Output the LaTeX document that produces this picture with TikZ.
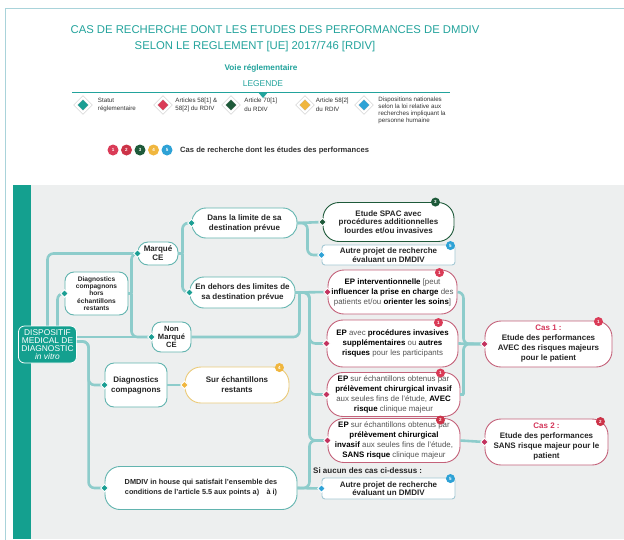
\documentclass[tikz,border=0pt]{standalone}
\usepackage{fontspec}
\setmainfont{Liberation Sans}
\usetikzlibrary{calc,
                positioning,
                shapes.geometric} % For diamond

\definecolor{teal1}{HTML}{22A39C}
\definecolor{tealbar}{HTML}{14A08F}
\definecolor{tealport}{HTML}{1A9E93}
\definecolor{tealborder}{HTML}{62B4AF}
\definecolor{linkcol}{HTML}{8DCCCB}
\definecolor{panel}{HTML}{EDEFEF}
\definecolor{framecol}{HTML}{A9D3DA}
\definecolor{redport}{HTML}{C2325E}
\definecolor{redborder}{HTML}{C4627A}
\definecolor{badgered}{HTML}{DA3B57}
\definecolor{badgered2}{HTML}{CC3348}
\definecolor{darkgreen}{HTML}{1E5A3A}
\definecolor{yellowport}{HTML}{F0B63E}
\definecolor{yellowborder}{HTML}{EBCB7A}
\definecolor{blueport}{HTML}{2EA2D6}
\definecolor{blueborder}{HTML}{A3C8D4}
\definecolor{textgray}{HTML}{555555}
\definecolor{casred}{HTML}{D4365A}

\newcommand{\numbadge}[4]
{   % #1 = naming of badge
    % #2 = position
    % #3 = colour
    % #4 = number
    \node[badge, fill=#3] (#1) at (#2) {#4};
}
\newcommand{\kw}[1]{\textbf{\color{black}#1}}

\begin{document}
\begin{tikzpicture}[x=1pt, y=-1pt]
    \tikzset
    {
        base/.style = {draw = tealborder,
                       fill = white,
                       line width = 0.9pt,
                       align = center,
                       inner sep = 1pt,
                       text = black!85,
                       font = \fontsize{8}{10}\selectfont\bfseries},
        box/.style = {base,
                      rectangle,
                      rounded corners = 9pt},
        pill/.style = {base,
                       rectangle,
                       rounded corners = 14pt},
        flat/.style = {base,
                       rectangle,
                       rounded corners = 3pt,
                       draw = blueborder,
                       font = \fontsize{8}{8.5}\selectfont\bfseries},
        epnode/.style = {pill,
                         draw = redborder,
                         text = textgray,
                         font = \fontsize{7.9}{10}\selectfont},
        dmdivnode/.style = {rectangle,
                            rounded corners = 6pt,
                            fill = tealbar,
                            draw = white,
                            line width = 0.8pt,
                            text = white,
                            align = center,
                            inner sep = 1pt,
                            font = \fontsize{8.4}{7.9}\selectfont},
        port/.style = {diamond,
                       draw = white,
                       line width = 0.9pt,
                       minimum size = 8pt,
                       inner sep = 0pt},
        badge/.style = {circle,
                        inner sep = 0pt,
                        minimum size = 9pt,
                        text = white,
                        font = \fontsize{4.5}{5}\selectfont\bfseries},
        legdiamond/.style = {diamond,
                             inner sep = 0pt,
                             minimum size = 15pt,
                             draw = black!22,
                             line width = 0.5pt,
                             double = white,
                             double distance = 2pt},
        legtext/.style = {align = left,
                          inner sep = 0pt,
                          text = black!80,
                          font = \fontsize{6.2}{8.5}\selectfont},
        titletext/.style = {text = teal1,
                            font = \fontsize{11.3}{14}\selectfont},
        linkline/.style = {draw = linkcol,
                           line width = 2.6pt,
                           rounded corners = 6pt}
    };

    \useasboundingbox (0,0) rectangle (624,539);
    \fill[white] (0,0) rectangle (624,539);
    \draw[framecol, line width = 0.8pt] (5,545) |- (630,8);

    % Title
    \node[titletext] (title1) at (275,30) {CAS DE RECHERCHE DONT LES ETUDES DES PERFORMANCES DE DMDIV};
    \node[titletext] (title2) at (255,47) {SELON LE REGLEMENT [UE] 2017/746 [RDIV]};
    \node[text = teal1, font = \fontsize{8.2}{9}\selectfont\bfseries] (voie) at (261,68) {Voie réglementaire};
    \node[text = teal1, font = \fontsize{8.4}{9}\selectfont] (legende) at (263,84) {LEGENDE};
    \draw[teal1, line width = 0.8pt] (72,92) -- (450,92);
    \fill[teal1] (258,92) -- (268,92) -- (263,98) -- cycle;

    % Legend
    \node[legdiamond, fill = tealport] (leg-statut) at (83,105) {};
    \node[legtext, right = 7pt of leg-statut] (leg-statut-t) {Statut\\réglementaire};
    \node[legdiamond, fill = badgered] (leg-art58) at (163,105) {};
    \node[legtext, right = 4.5pt of leg-art58] (leg-art58-t) {Articles 58[1] \&\\58[2] du RDIV};
    \node[legdiamond, fill = darkgreen] (leg-art70) at (231,105) {};
    \node[legtext, right = 5.5pt of leg-art70] (leg-art70-t) {Article 70[1]\\du RDIV};
    \node[legdiamond, fill = yellowport] (leg-art582) at (305,105) {};
    \node[legtext, right = 3pt of leg-art582] (leg-art582-t) {Article 58[2]\\du RDIV};
    \node[legdiamond, fill = blueport] (leg-nat) at (364,105) {};
    \node[legtext, font = \fontsize{6.2}{7}\selectfont, right = 6.5pt of leg-nat, yshift = -5pt] (leg-nat-t)
        {Dispositions nationales\\selon la loi relative aux\\recherches impliquant la\\personne humaine};

    % Numbered cases
    \foreach \i/\c [count=\k] in {1/badgered, 2/badgered2, 3/darkgreen, 4/yellowport, 5/blueport}
        \node[badge, minimum size = 11pt, fill = \c] (cas-\i) at ({99.5+13.5*\k},150) {\i};
    \node[text = black!80, font = \fontsize{7.6}{9}\selectfont\bfseries, right = 4pt of cas-5] (cas-text)
        {Cas de recherche dont les études des performances};

    % Panel
    \fill[panel] (13,185) rectangle (624,539);
    \fill[tealbar] (13,185) rectangle (31,539);

    % Column 1
    \node[dmdivnode, minimum width = 58pt, minimum height = 37pt] (dmdiv) at (47.5,344.5)
        {DISPOSITIF\\MEDICAL DE\\DIAGNOSTIC\\\textit{in vitro}};
    % Column 2
    \node[box, minimum width = 63pt, minimum height = 43pt, font = \fontsize{6.6}{7.2}\selectfont\bfseries] (hors) at (96.5,293.5)
        {Diagnostics\\compagnons\\hors\\échantillons\\restants};
    \node[box, minimum width = 62pt, minimum height = 44pt] (diag) at (136,385) {Diagnostics\\compagnons};
    \node[pill, rounded corners = 15pt, minimum width = 192pt, minimum height = 43pt, font = \fontsize{7.3}{10}\selectfont\bfseries] (inhouse) at (201,488)
        {DMDIV in house qui satisfait l'ensemble des\\conditions de l'article 5.5 aux points a)\quad à i)};
    % Column 3
    \node[box, rounded corners = 10pt, minimum width = 40pt, minimum height = 23pt, font = \fontsize{8}{9}\selectfont\bfseries] (marque) at (158,253.5) {Marqué\\CE};
    \node[box, minimum width = 39pt, minimum height = 30pt, font = \fontsize{7.6}{8}\selectfont\bfseries] (nonmarque) at (171.5,337) {Non\\Marqué\\CE};
    \node[pill, draw = yellowborder, rounded corners = 16pt, minimum width = 104pt, minimum height = 36pt] (surech) at (237,385) {Sur échantillons\\restants};
    % Column 4
    \node[pill, minimum width = 105pt, minimum height = 30pt] (dans) at (244.5,223) {Dans la limite de sa\\destination prévue};
    \node[pill, minimum width = 105pt, minimum height = 31pt] (endehors) at (242.5,292.5) {En dehors des limites de\\sa destination prévue};
    % Column 5
    \node[pill, draw = darkgreen, rounded corners = 16pt, minimum width = 131pt, minimum height = 39pt, font = \fontsize{8}{8.5}\selectfont\bfseries] (spac) at (388.5,222)
        {Etude SPAC avec\\procédures additionnelles\\lourdes et/ou invasives};
    \node[flat, minimum width = 133pt, minimum height = 20pt] (autre1) at (388.5,255) {Autre projet de recherche\\évaluant un DMDIV};
    \node[epnode, rounded corners = 16pt, minimum width = 129pt, minimum height = 44pt] (epint) at (392.5,292)
        {\kw{EP interventionnelle} [peut\\\kw{influencer la prise en charge} des\\patients et/ou \kw{orienter les soins}]};
    \node[epnode, rounded corners = 16pt, minimum width = 131pt, minimum height = 47pt] (epavec) at (392.5,343.5)
        {\kw{EP} avec \kw{procédures invasives}\\\kw{supplémentaires} ou \kw{autres}\\\kw{risques} pour les participants};
    \node[epnode, rounded corners = 16pt, minimum width = 133pt, minimum height = 44pt] (epsur1) at (393.5,394.5)
        {\kw{EP} sur échantillons obtenus par\\\kw{prélèvement chirurgical invasif}\\aux seules fins de l'étude, \kw{AVEC}\\\kw{risque} clinique majeur};
    \node[epnode, rounded corners = 16pt, minimum width = 132pt, minimum height = 44pt] (epsur2) at (394,440.5)
        {\kw{EP} sur échantillons obtenus par\\\kw{prélèvement chirurgical}\\\kw{invasif} aux seules fins de l'étude,\\\kw{SANS risque} clinique majeur};
    \node[anchor = west, inner sep = 0pt, text = black!85, font = \fontsize{8}{9}\selectfont\bfseries] (siaucun) at (313,471) {Si aucun des cas ci-dessus :};
    \node[flat, minimum width = 133pt, minimum height = 21pt] (autre2) at (388.5,488.5) {Autre projet de recherche\\évaluant un DMDIV};
    % Column 6
    \node[pill, draw = redborder, rounded corners = 16pt, minimum width = 127pt, minimum height = 46pt] (cas1) at (548.5,344)
        {{\color{casred}Cas 1 :}\\Etude des performances\\AVEC des risques majeurs\\pour le patient};
    \node[pill, draw = redborder, rounded corners = 16pt, minimum width = 123pt, minimum height = 46pt] (cas2) at (546.5,442)
        {{\color{casred}Cas 2 :}\\Etude des performances\\SANS risque majeur pour le\\patient};

    % Links
    \draw[linkline] (dmdiv.north) |- (marque.west);
    \draw[linkline] ($(dmdiv.north)+(10,0)$) |- (hors.west);
    \draw[linkline] (hors.east) -- ++(4,0);
    \draw[linkline] ($(hors.east)+(3,0)$) |- (marque.west);
    \draw[linkline] ($(hors.east)+(3,0)$) |- (nonmarque.west);
    \draw[linkline] (dmdiv.east |- nonmarque.west) -- (nonmarque.west);
    \draw[linkline] ($(dmdiv.east)+(0,-3)$) -| ($(diag.west)+(-16,0)$) -- (diag.west);
    \draw[linkline] ($(dmdiv.east)+(0,-3)$) -| ($(inhouse.west)+(-16,0)$) -- (inhouse.west);
    \draw[linkline] (diag.east) -- (surech.west);
    %% Marque CE
    \draw[linkline] (marque.east) -- ++(5,0);
    \draw[linkline] ($(marque.east)+(4,0)$) |- (dans.west);
    \draw[linkline] ($(marque.east)+(4,0)$) |- (endehors.west);
    \draw[linkline] (dans.east) -- (spac.west);
    \draw[linkline] (dans.east) -- ++(10,0) |- (autre1.west);
    %% Hors destination
    \draw[linkline] (endehors.east) -- (epint.west);
    \draw[linkline] (nonmarque.east) -| ($(endehors.east)+(4,0)$);
    \draw[linkline] (endehors.east) -- ++(14,0) |- (epavec.west);
    \draw[linkline] (endehors.east) -- ++(14,0) |- (epsur1.west);
    \draw[linkline] (endehors.east) -- ++(14,0) |- (epsur2.west);
    \draw[linkline] (inhouse.east) -- ++(12,0) |- (epsur2.west);
    \draw[linkline] (inhouse.east) -- (autre2.west);
    %% Cases
    \draw[linkline] (epint.east) -- ++(6,0) |- (cas1.west);
    \draw[linkline] (epavec.east) -- (cas1.west);
    \draw[linkline] (epsur1.east) -- ++(4,0);
    \draw[linkline] ($(epsur1.east)+(3,0)$) |- (cas1.west);
    \draw[linkline] (epsur2.east) -- (cas2.west);

    % Ports
    \foreach \n/\c in {hors/tealport, marque/tealport, nonmarque/tealport, diag/tealport,
                       inhouse/tealport, surech/yellowport, dans/tealport, endehors/tealport,
                       spac/darkgreen, autre1/blueport, epint/redport, epavec/redport,
                       epsur1/redport, epsur2/redport, autre2/blueport, cas1/redport, cas2/redport}
        \node[port, fill = \c] (p-\n) at (\n.west) {};

    % Badges
    \numbadge{b-spac}{$(spac.north east)+(-19,0)$}{darkgreen}{3}
    \numbadge{b-autre1}{$(autre1.north east)+(-5,1)$}{blueport}{5}
    \numbadge{b-epint}{$(epint.north east)+(-18,3)$}{badgered}{1}
    \numbadge{b-epavec}{$(epavec.north east)+(-20,3)$}{badgered}{1}
    \numbadge{b-epsur1}{$(epsur1.north east)+(-20,1)$}{badgered}{1}
    \numbadge{b-epsur2}{$(epsur2.north east)+(-20,2)$}{badgered2}{2}
    \numbadge{b-autre2}{$(autre2.north east)+(-5,1)$}{blueport}{5}
    \numbadge{b-surech}{$(surech.north east)+(-10,1)$}{yellowport}{4}
    \numbadge{b-cas1}{$(cas1.north east)+(-14,1)$}{badgered}{1}
    \numbadge{b-cas2}{$(cas2.north east)+(-8,3)$}{badgered2}{2}

\end{tikzpicture}
\end{document}
